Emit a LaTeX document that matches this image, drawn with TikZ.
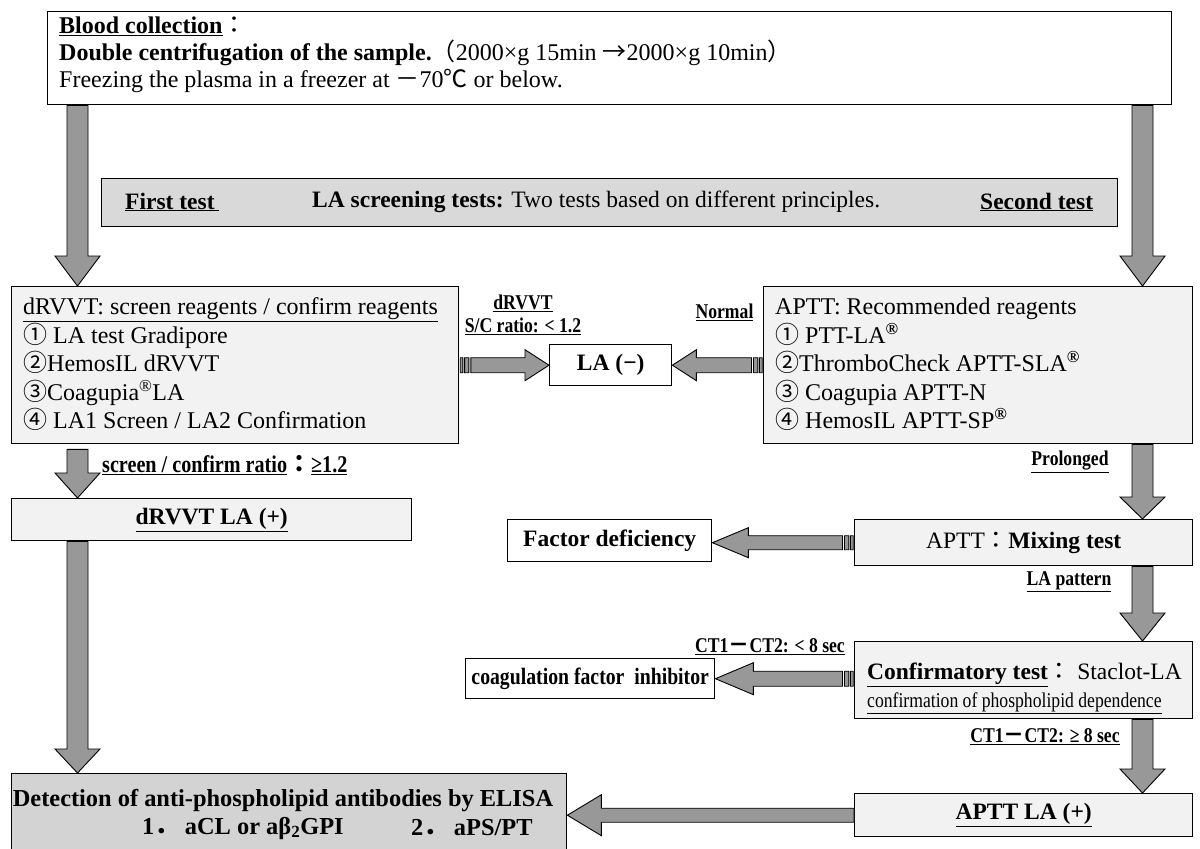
\documentclass[tikz,border=0pt]{standalone}
\usepackage{fontspec}
\setmainfont{Liberation Serif}
\newfontfamily\cjkfont{Noto Sans CJK JP}
\newcommand\cj[1]{{\cjkfont #1}}
\newfontfamily\lblfont[FakeStretch=0.84]{Liberation Serif}
\usetikzlibrary{calc}
\definecolor{arrowgray}{HTML}{989898}
\definecolor{lightbox}{HTML}{F2F2F2}
\definecolor{barfill}{HTML}{D9D9D9}
\definecolor{elisafill}{HTML}{D3D3D3}

% vertical block arrow pointing down: #1 start, #2 tip, #3 head length
\newcommand\varrowd[3]{%
  \filldraw[blockarrow] let \p1=#1, \p2=#2 in
    (\x1-10.5pt,\y1) -- (\x1+10.5pt,\y1) -- (\x1+10.5pt,\y2+#3) -- (\x1+22.5pt,\y2+#3)
    -- (\x1,\y2) -- (\x1-22.5pt,\y2+#3) -- (\x1-10.5pt,\y2+#3) -- cycle;}
% striped block arrow pointing left: #1 tail, #2 tip, #3 head length, #4 shaft half, #5 head half
\newcommand\harrowl[5]{%
  \filldraw[blockarrow] let \p1=#1, \p2=#2 in
    (\x1-3.5pt,\y1-#4) rectangle (\x1-0.8pt,\y1+#4)
    (\x1-9.5pt,\y1-#4) rectangle (\x1-5.2pt,\y1+#4)
    (\x1-11.5pt,\y1-#4) -- (\x2+#3,\y1-#4) -- (\x2+#3,\y1-#5) -- (\x2,\y1)
    -- (\x2+#3,\y1+#5) -- (\x2+#3,\y1+#4) -- (\x1-11.5pt,\y1+#4) -- cycle;}
% striped block arrow pointing right
\newcommand\harrowr[5]{%
  \filldraw[blockarrow] let \p1=#1, \p2=#2 in
    (\x1+0.8pt,\y1-#4) rectangle (\x1+3.5pt,\y1+#4)
    (\x1+5.2pt,\y1-#4) rectangle (\x1+9.5pt,\y1+#4)
    (\x1+11.5pt,\y1-#4) -- (\x2-#3,\y1-#4) -- (\x2-#3,\y1-#5) -- (\x2,\y1)
    -- (\x2-#3,\y1+#5) -- (\x2-#3,\y1+#4) -- (\x1+11.5pt,\y1+#4) -- cycle;}
% plain block arrow pointing left
\newcommand\harrowplain[5]{%
  \filldraw[blockarrow] let \p1=#1, \p2=#2 in
    (\x1,\y1-#4) -- (\x2+#3,\y1-#4) -- (\x2+#3,\y1-#5) -- (\x2,\y1)
    -- (\x2+#3,\y1+#5) -- (\x2+#3,\y1+#4) -- (\x1,\y1+#4) -- cycle;}

\begin{document}
\begin{tikzpicture}[x=1pt,y=-1pt,
  every node/.style={inner sep=0pt, font=\fontsize{23.5}{28.5}\selectfont},
  frame/.style={draw=black, line width=1.4pt, anchor=north west, inner sep=0pt},
  blockarrow/.style={fill=arrowgray, draw=black, line width=0.9pt},
  lbl/.style={font=\lblfont\bfseries\fontsize{21}{24}\selectfont},
  boldtxt/.style={font=\bfseries\fontsize{23.5}{28.5}\selectfont},
  multiline/.style={align=left, anchor=west}]
\useasboundingbox (0,0) rectangle (1200,849);

\coordinate (lx) at (77.5,0);
\coordinate (rx) at (1142.5,0);

% boxes
\node[frame, fill=white, minimum width=1124pt, minimum height=93pt] (top) at (47,11) {};
\node[frame, fill=barfill, minimum width=1016pt, minimum height=48pt] (bar) at (101,178) {};
\node[frame, fill=lightbox, minimum width=447pt, minimum height=157pt] (drvvt) at (11,286) {};
\node[frame, fill=lightbox, minimum width=429pt, minimum height=157pt] (aptt) at (763,286) {};
\node[frame, fill=white, minimum width=122pt, minimum height=41pt, boldtxt] (laneg) at (549,344) {LA (−)};
\node[frame, fill=lightbox, minimum width=400pt, minimum height=42pt, boldtxt] (drvLA) at (11,498) {\underline{dRVVT LA (+)}};
\node[frame, fill=white, minimum width=204pt, minimum height=42pt, boldtxt] (factor) at (507,519) {Factor deficiency};
\node[frame, fill=lightbox, minimum width=338pt, minimum height=46pt] (mix) at (854,519) {APTT\cj{：}\textbf{Mixing test}};
\node[frame, fill=white, minimum width=249pt, minimum height=40pt, font=\lblfont\bfseries\fontsize{23.5}{28.5}\selectfont] (coag) at (465,658) {coagulation factor\ \ inhibitor};
\node[frame, fill=lightbox, minimum width=338pt, minimum height=77pt] (conf) at (854,641) {};
\node[frame, fill=lightbox, minimum width=338pt, minimum height=43pt, boldtxt] (apttLA) at (854,793) {\underline{APTT LA (+)}};
\node[frame, fill=elisafill, minimum width=555pt, minimum height=90pt] (elisa) at (11,773) {};

% texts inside boxes
\node[multiline, font=\fontsize{24}{27}\selectfont] (topT) at (59,55)
  {\textbf{\underline{Blood collection}}\cj{：}\\
   \textbf{Double centrifugation of the sample.}\cj{（}2000×g 15min \cj{→}2000×g 10min\cj{）}\\
   Freezing the plasma in a freezer at \cj{－}70\cj{℃} or below.};
\node[anchor=west, boldtxt] (barA) at (125,202) {\underline{First test\,}};
\node[anchor=west] (barB) at (312,202) {\textbf{LA screening tests:} Two tests based on different principles.};
\node[anchor=west, boldtxt] (barC) at (980,202) {\underline{Second test}};
\node[multiline, font=\fontsize{24}{28.5}\selectfont] (drvvtT) at (23,364.5)
  {\underline{dRVVT: screen reagents / confirm reagents}\\
   \cj{①} LA test Gradipore\\
   \cj{②}HemosIL dRVVT\\
   \cj{③}Coagupia\textsuperscript{®}LA\\
   \cj{④} LA1 Screen / LA2 Confirmation};
\node[multiline, font=\fontsize{24}{28.5}\selectfont] (apttT) at (775,364.5)
  {APTT: Recommended reagents\\
   \cj{①} PTT-LA\textsuperscript{\textbf{®}}\\
   \cj{②}ThromboCheck APTT-SLA\textsuperscript{\textbf{®}}\\
   \cj{③} Coagupia APTT-N\\
   \cj{④} HemosIL APTT-SP\textsuperscript{\textbf{®}}};
\node[anchor=west] (confA) at (867,675) {\textbf{\underline{Confirmatory test}}\cj{：} Staclot-LA};
\node[anchor=west, font=\lblfont\fontsize{21}{24}\selectfont] (confB) at (867,703) {\underline{confirmation of phospholipid dependence}};
\node[font=\bfseries\fontsize{24.4}{28}\selectfont] (elA) at (283,801) {Detection of anti-phospholipid antibodies by ELISA};
\node[anchor=west, font=\bfseries\fontsize{24.4}{28}\selectfont] (elB) at (142,828) {1\cj{．} aCL or aβ\textsubscript{2}GPI};
\node[anchor=west, font=\bfseries\fontsize{24.4}{28}\selectfont] (elC) at (411,828) {2\cj{．} aPS/PT};

% labels
\node[lbl] (lDr) at (523,303) {\underline{dRVVT}};
\node[lbl] (lSC) at (523,326) {\underline{S/C ratio: < 1.2}};
\node[lbl] (lNorm) at (724.5,312) {\underline{Normal}};
\node[lbl, anchor=west, font=\lblfont\bfseries\fontsize{24}{26}\selectfont] (lScr) at (102,465) {\underline{screen / confirm ratio}\cj{：}\underline{≥1.2}};
\node[lbl] (lPro) at (1070,462) {\underline{Prolonged}};
\node[lbl] (lLAp) at (1069,582) {\underline{LA pattern}};
\node[lbl] (lCTa) at (770,647) {\underline{CT1\cj{－}CT2: < 8 sec}};
\node[lbl] (lCTb) at (1045,737) {\underline{CT1\cj{－}CT2: ≥ 8 sec}};

% arrows
\varrowd{(top.south -| lx)}{(drvvt.north -| lx)}{30pt}
\varrowd{(top.south -| rx)}{(aptt.north -| rx)}{30pt}
\harrowr{(drvvt.east |- laneg.west)}{(laneg.west)}{24pt}{7.5pt}{15.5pt}
\harrowl{(aptt.west |- laneg.east)}{(laneg.east)}{24pt}{7.5pt}{15.5pt}
\varrowd{($(drvvt.south -| lx)+(0,5)$)}{(drvLA.north -| lx)}{25pt}
\varrowd{(drvLA.south -| lx)}{(elisa.north -| lx)}{24pt}
\varrowd{(aptt.south -| rx)}{(mix.north -| rx)}{22pt}
\harrowl{(mix.west)}{(factor.east |- mix.west)}{36pt}{7pt}{15pt}
\varrowd{(mix.south -| rx)}{(conf.north -| rx)}{28pt}
\harrowl{(conf.west |- coag.east)}{(coag.east)}{38pt}{7.5pt}{16pt}
\varrowd{(conf.south -| rx)}{(apttLA.north -| rx)}{24pt}
\harrowplain{(apttLA.west)}{(elisa.east |- apttLA.west)}{34pt}{7pt}{20.5pt}
\end{tikzpicture}
\end{document}
